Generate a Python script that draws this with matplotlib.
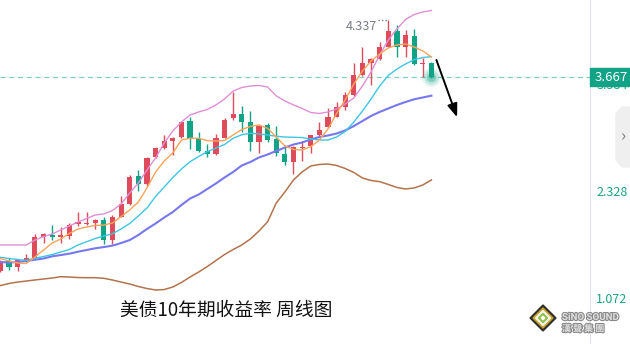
import numpy as np
import matplotlib
matplotlib.use("Agg")
import matplotlib.pyplot as plt
from matplotlib.patches import Polygon, Rectangle
import matplotlib.patheffects as pe

plt.rcParams["font.family"] = ["Noto Sans CJK SC", "DejaVu Sans"]

# weekly candles, US 10y yield
opens = [1.397, 1.511, 1.444, 1.514, 1.543, 1.796, 1.816, 1.796, 1.808, 1.945,
         1.949, 1.960, 1.992, 1.763, 2.031, 2.180, 2.509, 2.411, 2.728, 2.841,
         2.923, 2.963, 3.151, 2.939, 2.802, 2.763, 2.958, 3.186, 3.236, 3.142,
         2.911, 3.107, 2.943, 2.767, 2.676, 2.834, 2.864, 2.990, 3.087, 3.205,
         3.322, 3.459, 3.694, 3.838, 3.882, 4.026, 4.210, 4.026, 4.152, 3.823,
         3.838]
highs = [1.523, 1.546, 1.534, 1.593, 1.828, 1.843, 1.937, 1.914, 1.960, 2.086,
         2.086, 2.004, 2.031, 2.051, 2.274, 2.520, 2.579, 2.735, 2.852, 2.990,
         2.966, 3.154, 3.201, 3.021, 2.884, 2.998, 3.193, 3.498, 3.330, 3.271,
         3.100, 3.127, 3.095, 2.872, 2.860, 2.919, 2.995, 3.142, 3.303, 3.381,
         3.498, 3.831, 4.026, 3.894, 4.081, 4.337, 4.281, 4.222, 4.234, 3.890,
         3.850]
lows = [1.382, 1.405, 1.397, 1.503, 1.534, 1.726, 1.757, 1.719, 1.773, 1.922,
        1.930, 1.883, 1.710, 1.710, 2.025, 2.168, 2.336, 2.391, 2.716, 2.825,
        2.755, 2.955, 2.825, 2.794, 2.728, 2.755, 2.951, 3.166, 3.029, 2.806,
        2.775, 2.911, 2.747, 2.638, 2.532, 2.685, 2.782, 2.982, 3.072, 3.198,
        3.283, 3.448, 3.682, 3.577, 3.870, 4.020, 3.902, 3.909, 3.815, 3.667,
        3.660]
closes = [1.499, 1.444, 1.523, 1.546, 1.789, 1.824, 1.796, 1.813, 1.937, 1.969,
          1.960, 1.992, 1.757, 2.031, 2.176, 2.493, 2.411, 2.716, 2.834, 2.916,
          2.951, 3.142, 2.939, 2.806, 2.763, 2.951, 3.166, 3.236, 3.146, 2.911,
          3.095, 2.931, 2.775, 2.676, 2.852, 2.852, 2.990, 3.048, 3.205, 3.322,
          3.459, 3.694, 3.838, 3.878, 4.026, 4.210, 4.019, 4.164, 3.820, 3.838,
          3.667]

ma5 = [1.540, 1.511, 1.487, 1.482, 1.558, 1.640, 1.722, 1.769, 1.834, 1.887,
       1.910, 1.928, 1.933, 1.957, 2.033, 2.110, 2.203, 2.368, 2.556, 2.685,
       2.779, 2.931, 2.951, 2.951, 2.923, 2.919, 2.925, 2.990, 3.054, 3.090,
       3.107, 3.068, 2.966, 2.861, 2.820, 2.814, 2.852, 2.931, 3.060, 3.242,
       3.401, 3.588, 3.741, 3.858, 3.941, 4.011, 4.046, 4.058, 4.023, 3.976,
       3.905]
ma10 = [1.554, 1.540, 1.529, 1.519, 1.543, 1.564, 1.587, 1.617, 1.646, 1.699,
        1.737, 1.775, 1.804, 1.831, 1.887, 1.951, 2.039, 2.133, 2.268, 2.379,
        2.491, 2.591, 2.676, 2.737, 2.794, 2.837, 2.878, 2.951, 2.993, 3.010,
        3.002, 2.990, 2.975, 2.966, 2.963, 2.960, 2.943, 2.931, 2.931, 2.966,
        3.031, 3.142, 3.271, 3.412, 3.565, 3.688, 3.764, 3.823, 3.874, 3.899,
        3.909]
ma20 = [1.499, 1.493, 1.499, 1.511, 1.526, 1.540, 1.566, 1.581, 1.597, 1.620,
        1.640, 1.660, 1.675, 1.691, 1.722, 1.757, 1.816, 1.887, 1.951, 2.021,
        2.086, 2.168, 2.244, 2.291, 2.356, 2.421, 2.491, 2.556, 2.632, 2.673,
        2.726, 2.761, 2.802, 2.843, 2.878, 2.902, 2.937, 2.966, 2.984, 3.007,
        3.043, 3.095, 3.154, 3.213, 3.260, 3.301, 3.342, 3.377, 3.409, 3.430,
        3.451]
boll_up = [1.699, 1.699, 1.699, 1.699, 1.757, 1.796, 1.828, 1.875, 1.922, 1.969,
           2.010, 2.051, 2.063, 2.104, 2.180, 2.309, 2.426, 2.579, 2.720, 2.896,
           3.037, 3.142, 3.225, 3.260, 3.289, 3.342, 3.412, 3.506, 3.547, 3.565,
           3.571, 3.553, 3.448, 3.389, 3.342, 3.301, 3.254, 3.242, 3.260, 3.295,
           3.354, 3.424, 3.565, 3.729, 3.929, 4.105, 4.234, 4.345, 4.404, 4.433,
           4.451]
boll_dn = [1.223, 1.247, 1.264, 1.276, 1.288, 1.300, 1.311, 1.327, 1.323, 1.317,
           1.315, 1.315, 1.308, 1.288, 1.264, 1.241, 1.212, 1.188, 1.171, 1.176,
           1.206, 1.259, 1.323, 1.382, 1.446, 1.517, 1.587, 1.646, 1.699, 1.769,
           1.863, 1.972, 2.192, 2.321, 2.462, 2.556, 2.626, 2.644, 2.649, 2.632,
           2.597, 2.550, 2.485, 2.456, 2.442, 2.409, 2.374, 2.356, 2.368, 2.403,
           2.462]

ytick_vals = [1.072, 2.328, 3.584]
ytick_labels = ["1.072", "2.328", "3.584"]
last_price = 3.667
max_label = "4.337"
title = "美债10年期收益率 周线图"

RED = "#de4b5b"
GREEN = "#12a386"

o = np.array(opens)
c = np.array(closes)
x = np.arange(len(o))
up = c >= o
cols = np.where(up, RED, GREEN)

fig = plt.figure(figsize=(6.3, 3.44), dpi=100)
W, H = 630.0, 344.0
ax = fig.add_axes([0, 0, 590 / W, 1])
ax.set_xlim(-0.05, 68.4)
ax.set_ylim(0.537, 4.574)

ax.axhline(last_price, color="#7fd0bb", lw=0.9, ls=(0, (4, 3)), zorder=1)

ax.vlines(x, lows, highs, colors=cols, lw=1.0, zorder=2)
ax.bar(x, np.maximum(np.abs(c - o), 0.012), bottom=np.minimum(o, c), width=0.6,
       color=cols, linewidth=0, zorder=3)

ax.plot(x, boll_up, color="#e08ed6", lw=1.0, zorder=4)
ax.plot(x, boll_dn, color="#b3734d", lw=1.1, zorder=4)
ax.plot(x, ma20, color="#7777ef", lw=1.5, zorder=4)
ax.plot(x, ma10, color="#3ec5e2", lw=1.0, zorder=4)
ax.plot(x, ma5, color="#ffa35a", lw=1.0, zorder=4)

# glow on last close
for s, a in [(190, 0.10), (110, 0.18), (45, 0.35)]:
    ax.scatter(x[-1], last_price, s=s, color=GREEN, alpha=a, lw=0, zorder=5)

# max annotation
imax = int(np.argmax(highs))
ax.text(imax - 1.35, highs[imax], max_label, ha="right", va="top", fontsize=9,
        color="#7a7d86", zorder=6)
ax.plot([imax - 1.25, imax - 0.1], [highs[imax]] * 2, ls=(0, (1, 1.5)),
        color="#7a7d86", lw=1.0, zorder=6)

# down arrow
ax.annotate("", xy=(52.98, 3.198), xytext=(50.58, 3.870),
            arrowprops=dict(arrowstyle="-|>,head_length=0.8,head_width=0.3",
                            color="black", lw=1.4, shrinkA=0, shrinkB=0), zorder=6)

for side in ["top", "left", "bottom"]:
    ax.spines[side].set_visible(False)
ax.spines["right"].set_color("#e3e5ea")
ax.set_xticks([])
ax.yaxis.tick_right()
ax.set_yticks(ytick_vals)
ax.set_yticklabels(ytick_labels)
ax.tick_params(axis="y", length=0, pad=4.5, labelsize=9, labelcolor="#1aa386")

# price tag
fig.patches.append(Rectangle((590 / W, 1 - 86 / H), 40 / W, 18 / H,
                             transform=fig.transFigure, color=GREEN, zorder=5))
fig.text(611 / W, 1 - 77.3 / H, f"{last_price:.3f}", ha="center", va="center",
         color="white", fontsize=9.5, zorder=6)

# side tab
tab = [(630, 107), (622, 107), (616, 114), (616, 160), (622, 167), (630, 167)]
fig.patches.append(Polygon([(px / W, 1 - py / H) for px, py in tab], closed=True,
                           transform=fig.transFigure, color="#efefef", zorder=5))
fig.text(623 / W, 1 - 137 / H, "›", ha="center", va="center", color="#7a7d86",
         fontsize=12, zorder=6)

# title
fig.text(120 / W, 1 - 310 / H, title, ha="left", va="center", fontsize=13.5,
         color="#111111")

# logo
cx, cy = 543, 318
for r, col in [(13, "#2f2f2f"), (10, "#c9a52a"), (7.5, "#f4f4f4"), (4.5, "#8cbf3f"), (1.8, "#ffffff")]:
    pts = [(cx, cy - r), (cx + r, cy), (cx, cy + r), (cx - r, cy)]
    fig.patches.append(Polygon([(px / W, 1 - py / H) for px, py in pts], closed=True,
                               transform=fig.transFigure, color=col, zorder=5))
fig.text(562 / W, 1 - 317 / H, "SiNO SOUND", ha="left", va="center", fontsize=7,
         fontweight="bold", color="#e0e0e0", family=["Roboto", "DejaVu Sans"],
         path_effects=[pe.withStroke(linewidth=1.6, foreground="#8a8a8a")], zorder=6)
fig.text(562 / W, 1 - 329 / H, "漢 聲 集 團", ha="left", va="center", fontsize=6.5,
         fontweight="bold", color="#e0e0e0",
         path_effects=[pe.withStroke(linewidth=1.6, foreground="#8a8a8a")], zorder=6)

fig.savefig("out.png", dpi=100)
